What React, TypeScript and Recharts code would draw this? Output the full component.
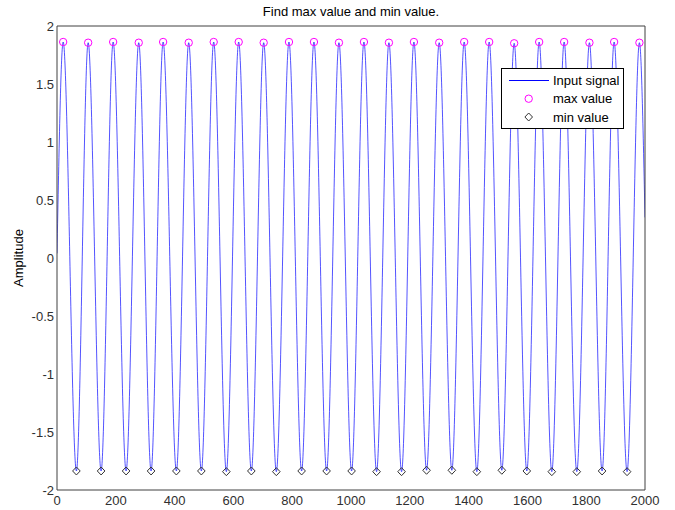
import React from 'react';
import { ComposedChart, Line, Scatter, XAxis, YAxis, Legend } from 'recharts';

// Positions of the local maxima
const peakX = [21, 106, 191, 278, 361, 448, 533, 618, 703, 789, 874, 959, 1044, 1129, 1214, 1300, 1385, 1470, 1555, 1640, 1725, 1811, 1895, 1981];
const peakY = [1.862, 1.856, 1.862, 1.856, 1.862, 1.856, 1.862, 1.862, 1.856, 1.862, 1.862, 1.856, 1.862, 1.856, 1.862, 1.856, 1.862, 1.862, 1.851, 1.862, 1.862, 1.856, 1.862, 1.856];
// Positions of the local minima
const troughX = [66, 150, 235, 320, 406, 491, 576, 661, 746, 832, 917, 1002, 1087, 1172, 1257, 1343, 1428, 1513, 1598, 1683, 1768, 1854, 1939];
const troughY = [-1.836, -1.836, -1.836, -1.836, -1.836, -1.836, -1.842, -1.836, -1.842, -1.836, -1.836, -1.836, -1.842, -1.842, -1.83, -1.83, -1.842, -1.83, -1.836, -1.842, -1.842, -1.836, -1.842];
// Signal end points
const startPoint = { x: 0, y: 0.04 };
const endPoint = { x: 2000, y: 0.35 };

const xTicks = [0, 200, 400, 600, 800, 1000, 1200, 1400, 1600, 1800, 2000];
const yTicks = [-2, -1.5, -1, -0.5, 0, 0.5, 1, 1.5, 2];

const titleText = 'Find max value and min value.';
const yLabelText = 'Amplitude';
const legendLabels = ['Input signal', 'max value', 'min value'];

const maxData = peakX.map((x, i) => ({ x, y: peakY[i] }));
const minData = troughX.map((x, i) => ({ x, y: troughY[i] }));
const signalData = [startPoint, ...maxData, ...minData, endPoint].sort((a, b) => a.x - b.x);

const FONT = '"Liberation Sans", Arial, Helvetica, sans-serif';
const AXIS = '#404040';
const TEXT = '#303030';
const BLUE = '#0000ff';
const MAGENTA = '#ff00ff';
const DIAMOND = '#333333';

const CircleShape = (p: any) => (
  <circle cx={p.cx} cy={p.cy} r={3.7} fill="none" stroke={MAGENTA} strokeWidth={1} />
);
const DiamondShape = (p: any) => (
  <path
    d={`M${p.cx},${p.cy - 4} L${p.cx + 3.8},${p.cy} L${p.cx},${p.cy + 4} L${p.cx - 3.8},${p.cy} Z`}
    fill="none"
    stroke={DIAMOND}
    strokeWidth={1}
  />
);

const LegendBox = () => (
  <svg width={123} height={61} style={{ display: 'block' }}>
    <rect x={0.5} y={0.5} width={122} height={60} fill="#fff" stroke="#000" strokeWidth={1} />
    <line x1={8} x2={48} y1={12.5} y2={12.5} stroke={BLUE} strokeWidth={1} />
    <circle cx={27.7} cy={30.7} r={3.7} fill="none" stroke={MAGENTA} strokeWidth={1} />
    <path d="M27.7,45 L31.5,49 L27.7,53 L23.9,49 Z" fill="none" stroke={DIAMOND} strokeWidth={1} />
    {legendLabels.map((t, i) => (
      <text key={t} x={52} y={17.3 + i * 18.1} fontSize={13} fontFamily={FONT} fill="#000">
        {t}
      </text>
    ))}
  </svg>
);

export default function App() {
  const tickStyle = { fontSize: 13, fill: TEXT, fontFamily: FONT };
  return (
    <div style={{ position: 'absolute', left: 0, top: 0, width: 675, height: 510, background: '#fff' }}>
      <ComposedChart width={675} height={510} margin={{ top: 26, right: 30, bottom: 0, left: 0 }}>
        <XAxis
          xAxisId="x"
          dataKey="x"
          type="number"
          domain={[0, 2000]}
          ticks={xTicks}
          allowDataOverflow
          orientation="bottom"
          height={20}
          tickLine={false}
          tickSize={0}
          tickMargin={6}
          axisLine={{ stroke: AXIS, strokeWidth: 1 }}
          tick={tickStyle}
        />
        <XAxis
          xAxisId="xb"
          dataKey="x"
          type="number"
          domain={[0, 2000]}
          ticks={xTicks}
          allowDataOverflow
          orientation="bottom"
          mirror
          tick={false}
          tickSize={5}
          axisLine={false}
          tickLine={{ stroke: AXIS }}
        />
        <XAxis
          xAxisId="xt"
          dataKey="x"
          type="number"
          domain={[0, 2000]}
          ticks={xTicks}
          allowDataOverflow
          orientation="top"
          mirror
          tick={false}
          tickSize={5}
          axisLine={{ stroke: AXIS, strokeWidth: 1 }}
          tickLine={{ stroke: AXIS }}
        />
        <YAxis
          yAxisId="y"
          type="number"
          domain={[-2, 2]}
          ticks={yTicks}
          allowDataOverflow
          width={57}
          tickLine={false}
          tickSize={0}
          tickMargin={3}
          axisLine={{ stroke: AXIS, strokeWidth: 1 }}
          tick={tickStyle}
        />
        <YAxis
          yAxisId="yl"
          type="number"
          domain={[-2, 2]}
          ticks={yTicks}
          allowDataOverflow
          mirror
          tick={false}
          tickSize={5}
          axisLine={false}
          tickLine={{ stroke: AXIS }}
        />
        <YAxis
          yAxisId="yr"
          type="number"
          orientation="right"
          domain={[-2, 2]}
          ticks={yTicks}
          allowDataOverflow
          mirror
          tick={false}
          tickSize={5}
          axisLine={{ stroke: AXIS, strokeWidth: 1 }}
          tickLine={{ stroke: AXIS }}
        />
        <Line
          xAxisId="x"
          yAxisId="y"
          data={signalData}
          dataKey="y"
          type="monotoneX"
          stroke={BLUE}
          strokeWidth={0.8}
          strokeOpacity={0.85}
          dot={false}
          activeDot={false}
          isAnimationActive={false}
          name={legendLabels[0]}
        />
        <Scatter
          xAxisId="x"
          yAxisId="y"
          data={maxData}
          dataKey="y"
          shape={CircleShape}
          isAnimationActive={false}
          name={legendLabels[1]}
        />
        <Scatter
          xAxisId="x"
          yAxisId="y"
          data={minData}
          dataKey="y"
          shape={DiamondShape}
          isAnimationActive={false}
          name={legendLabels[2]}
        />
        <Legend
          layout="horizontal"
          verticalAlign="middle"
          align="center"
          wrapperStyle={{ position: 'absolute', left: 501, top: 68, width: 123, height: 61 }}
          content={() => <LegendBox />}
        />
      </ComposedChart>
      <svg
        width={675}
        height={510}
        style={{ position: 'absolute', left: 0, top: 0, pointerEvents: 'none' }}
      >
        <text x={351} y={15.5} textAnchor="middle" fontSize={13} fontFamily={FONT} fill="#000">
          {titleText}
        </text>
        <text
          transform="translate(22.5,258) rotate(-90)"
          textAnchor="middle"
          fontSize={13}
          fontFamily={FONT}
          fill="#000"
        >
          {yLabelText}
        </text>
      </svg>
    </div>
  );
}
